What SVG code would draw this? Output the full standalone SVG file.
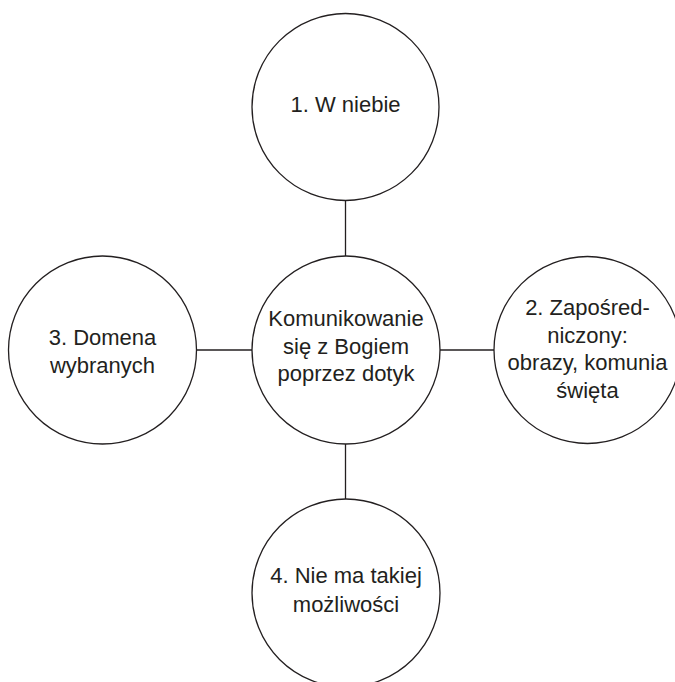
<svg xmlns="http://www.w3.org/2000/svg" width="675" height="682" viewBox="0 0 675 682">
<style>
.node circle{fill:#fff;stroke:#231f20;stroke-width:1.3}
.node text{font-family:"Liberation Sans",Arial,sans-serif;font-size:22px;fill:#231f20;text-anchor:middle}
#connectors line{stroke:#231f20;stroke-width:1.3}
</style>
<rect width="675" height="682" fill="#fff"/>
<g id="connectors">
<line x1="345.5" y1="200" x2="345.5" y2="256"/>
<line x1="345.5" y1="444" x2="345.5" y2="499"/>
<line x1="196" y1="350" x2="252" y2="350"/>
<line x1="440" y1="350" x2="494" y2="350"/>
</g>
<g id="n1" class="node">
<circle cx="345.5" cy="107" r="93.5"/>
<text x="345.5" y="112">1. W niebie</text>
</g>
<g id="center" class="node">
<circle cx="346" cy="350" r="94"/>
<text x="346" y="326">Komunikowanie</text>
<text x="346" y="353.5">się z Bogiem</text>
<text x="346" y="381">poprzez dotyk</text>
</g>
<g id="n3" class="node">
<circle cx="102.5" cy="350" r="94"/>
<text x="102.5" y="345">3. Domena</text>
<text x="102.5" y="373">wybranych</text>
</g>
<g id="n2" class="node">
<circle cx="587.5" cy="350" r="93.5"/>
<text x="587.5" y="315">2. Zapośred-</text>
<text x="587.5" y="342.5">niczony:</text>
<text x="587.5" y="370">obrazy, komunia</text>
<text x="587.5" y="397.5">święta</text>
</g>
<g id="n4" class="node">
<circle cx="346" cy="593" r="94"/>
<text x="346" y="583">4. Nie ma takiej</text>
<text x="346" y="612">możliwości</text>
</g>
</svg>
